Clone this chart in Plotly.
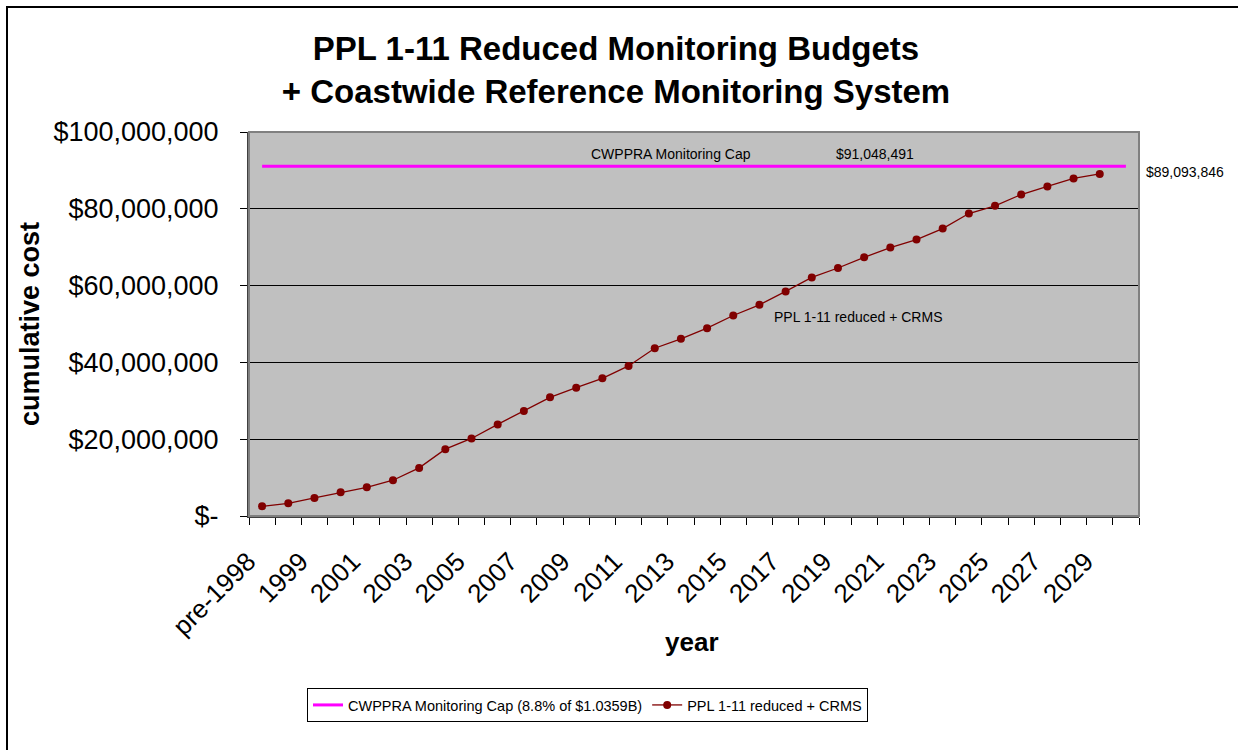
import plotly.graph_objects as go

# ---- data ----
categories = ["pre-1998"] + [str(y) for y in range(1998, 2031)]  # 34 categories (2030 is empty)
ppl_categories = categories[:-1]  # pre-1998 .. 2029
ppl_values = [
    2.52e6, 3.31e6, 4.70e6, 6.18e6, 7.48e6, 9.31e6, 12.53e6, 17.41e6, 20.19e6,
    23.85e6, 27.33e6, 30.90e6, 33.42e6, 35.86e6, 39.08e6, 43.69e6, 46.13e6,
    48.91e6, 52.22e6, 55.00e6, 58.49e6, 62.14e6, 64.58e6, 67.36e6, 69.89e6,
    71.98e6, 74.85e6, 78.76e6, 80.77e6, 83.72e6, 85.81e6, 87.90e6, 89093846,
]
cap_value = 91048491
cap_values = [cap_value] * len(categories)
x_ticktext = [c if i % 2 == 0 else "" for i, c in enumerate(categories)]
y_tickvals = [0, 20e6, 40e6, 60e6, 80e6, 100e6]
y_ticktext = ["$-", "$20,000,000", "$40,000,000", "$60,000,000", "$80,000,000", "$100,000,000"]

FONT = "Arial, Liberation Sans, sans-serif"
W, H = 1238, 750
L, R, T, B = 249, 99, 132, 234
PW, PH = W - L - R, H - T - B


def px(xp):
    return (xp - L) / PW


def py(yp):
    return (H - B - yp) / PH


fig = go.Figure()
fig.add_trace(go.Scatter(
    x=categories, y=cap_values, mode="lines",
    name="CWPPRA Monitoring Cap (8.8% of $1.0359B)",
    line=dict(color="#FF00FF", width=3),
))
fig.add_trace(go.Scatter(
    x=ppl_categories, y=ppl_values, mode="lines+markers",
    name="PPL 1-11 reduced + CRMS",
    line=dict(color="#800000", width=1.3),
    marker=dict(color="#800000", size=8, symbol="circle"),
))


def note(text, x, y, size=14):
    return dict(text=text, xref="paper", yref="paper", x=px(x), y=py(y),
                xanchor="center", yanchor="middle", showarrow=False,
                font=dict(size=size, family=FONT, color="black"))


fig.update_layout(
    width=W, height=H,
    margin=dict(l=L, r=R, t=T, b=B),
    paper_bgcolor="white",
    plot_bgcolor="#C0C0C0",
    font=dict(family=FONT, color="black"),
    title=dict(
        text="<b>PPL 1-11 Reduced Monitoring Budgets<br>+ Coastwide Reference Monitoring System</b>",
        font=dict(size=33, family=FONT, color="black"),
        x=616 / W, xanchor="center", xref="container",
        y=1 - 60 / H, yanchor="top",
    ),
    showlegend=True,
    legend=dict(
        orientation="h",
        x=px(307), xanchor="left",
        y=py(688), yanchor="top",
        bordercolor="black", borderwidth=1,
        bgcolor="white",
        font=dict(size=14.5, family=FONT, color="black"),
        itemwidth=30,
    ),
    xaxis=dict(
        type="category",
        categoryorder="array", categoryarray=categories,
        range=[-0.5, len(categories) - 0.5],
        tickmode="array", tickvals=categories, ticktext=x_ticktext,
        tickson="boundaries",
        ticks="outside", ticklen=7, tickcolor="black", tickwidth=1,
        tickangle=-45,
        ticklabelstandoff=18, ticklabelshift=-14,
        tickfont=dict(size=26, family=FONT, color="black"),
        showgrid=False,
        showline=True, linecolor="#404040", linewidth=2,
        fixedrange=True,
    ),
    yaxis=dict(
        range=[0, 100e6],
        tickmode="array", tickvals=y_tickvals, ticktext=y_ticktext,
        ticks="outside", ticklen=7, tickcolor="black", tickwidth=1,
        ticklabelstandoff=16,
        tickfont=dict(size=27, family=FONT, color="black"),
        showgrid=True, gridcolor="black", gridwidth=1,
        zeroline=False,
        showline=True, linecolor="#404040", linewidth=2,
        title=dict(text="<b>cumulative cost</b>", font=dict(size=27, family=FONT, color="black"), standoff=6),
        fixedrange=True,
    ),
    shapes=[
        # plot area border (gray)
        dict(type="rect", xref="paper", yref="paper", x0=0, x1=1, y0=0, y1=1,
             line=dict(color="#808080", width=2), layer="above"),
        # outer chart border
        dict(type="rect", xref="paper", yref="paper",
             x0=px(7), x1=px(1300), y0=py(800), y1=py(7),
             line=dict(color="black", width=2)),
    ],
    annotations=[
        note("<b>year</b>", 692, 642, size=26),
        note("CWPPRA Monitoring Cap", 671, 154),
        note("$91,048,491", 875, 154),
        note("PPL 1-11 reduced + CRMS", 858, 317),
        note("$89,093,846", 1185, 172),
    ],
)

fig.write_html("out.html", config={"displayModeBar": False},
               post_script="document.body.style.margin='0px';")
